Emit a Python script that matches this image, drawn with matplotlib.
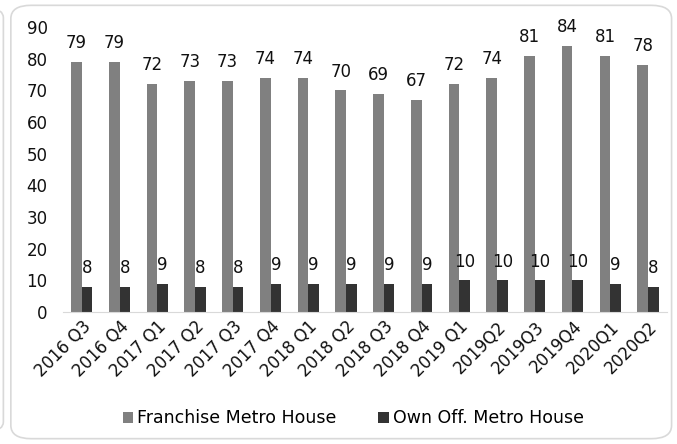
import numpy as np
import matplotlib
matplotlib.use("Agg")
import matplotlib.pyplot as plt
from matplotlib.patches import FancyBboxPatch

plt.rcParams['font.family'] = ['DejaVu Sans']

# quarterly data
quarters = ["2016 Q3", "2016 Q4", "2017 Q1", "2017 Q2", "2017 Q3", "2017 Q4",
            "2018 Q1", "2018 Q2", "2018 Q3", "2018 Q4", "2019 Q1", "2019Q2",
            "2019Q3", "2019Q4", "2020Q1", "2020Q2"]
franchise = [79, 79, 72, 73, 73, 74, 74, 70, 69, 67, 72, 74, 81, 84, 81, 78]
own_office = [8, 8, 9, 8, 8, 9, 9, 9, 9, 9, 10, 10, 10, 10, 9, 8]
y_ticks = [0, 10, 20, 30, 40, 50, 60, 70, 80, 90]

fig = plt.figure(figsize=(6.77, 4.44), dpi=100)
ax = fig.add_axes([0.093, 0.297, 0.892, 0.642])

# rounded frame like the source chart box
frame = FancyBboxPatch((0.016, 0.012), 0.976, 0.976, boxstyle="round,pad=0,rounding_size=0.03",
                       transform=fig.transFigure, fc="none", ec="#d9d9d9", lw=1.2, zorder=-1)
fig.patches.append(frame)
left_box = FancyBboxPatch((-0.2, 0.03), 0.205, 0.95, boxstyle="round,pad=0,rounding_size=0.02",
                          transform=fig.transFigure, fc="none", ec="#d9d9d9", lw=1.2, zorder=-1)
fig.patches.append(left_box)

x = np.arange(len(quarters))
w = 0.28
b1 = ax.bar(x - w / 2, franchise, w, color="#808080", label="Franchise Metro House")
b2 = ax.bar(x + w / 2, own_office, w, color="#333333", label="Own Off. Metro House")

for bars in (b1, b2):
    ax.bar_label(bars, padding=7, fontsize=12, color="#111111", clip_on=False)

ax.set_xlim(-0.5, len(quarters) - 0.5)
ax.set_ylim(0, 90)
ax.set_yticks(y_ticks)
ax.set_xticks(x)
ax.set_xticklabels(quarters, rotation=45, ha="right", rotation_mode="anchor")
ax.tick_params(axis="both", length=0, labelsize=12, colors="#111111")
ax.tick_params(axis="y", pad=11)
ax.tick_params(axis="x", pad=4)

for s in ("top", "right", "left"):
    ax.spines[s].set_visible(False)
ax.spines["bottom"].set_color("#d9d9d9")

fig.legend(loc="center", bbox_to_anchor=(0.522, 0.058), ncol=2, frameon=False,
           fontsize=12.5, handlelength=0.6, handleheight=0.6, handletextpad=0.25,
           columnspacing=2.4)

fig.savefig("out.png", dpi=100)
